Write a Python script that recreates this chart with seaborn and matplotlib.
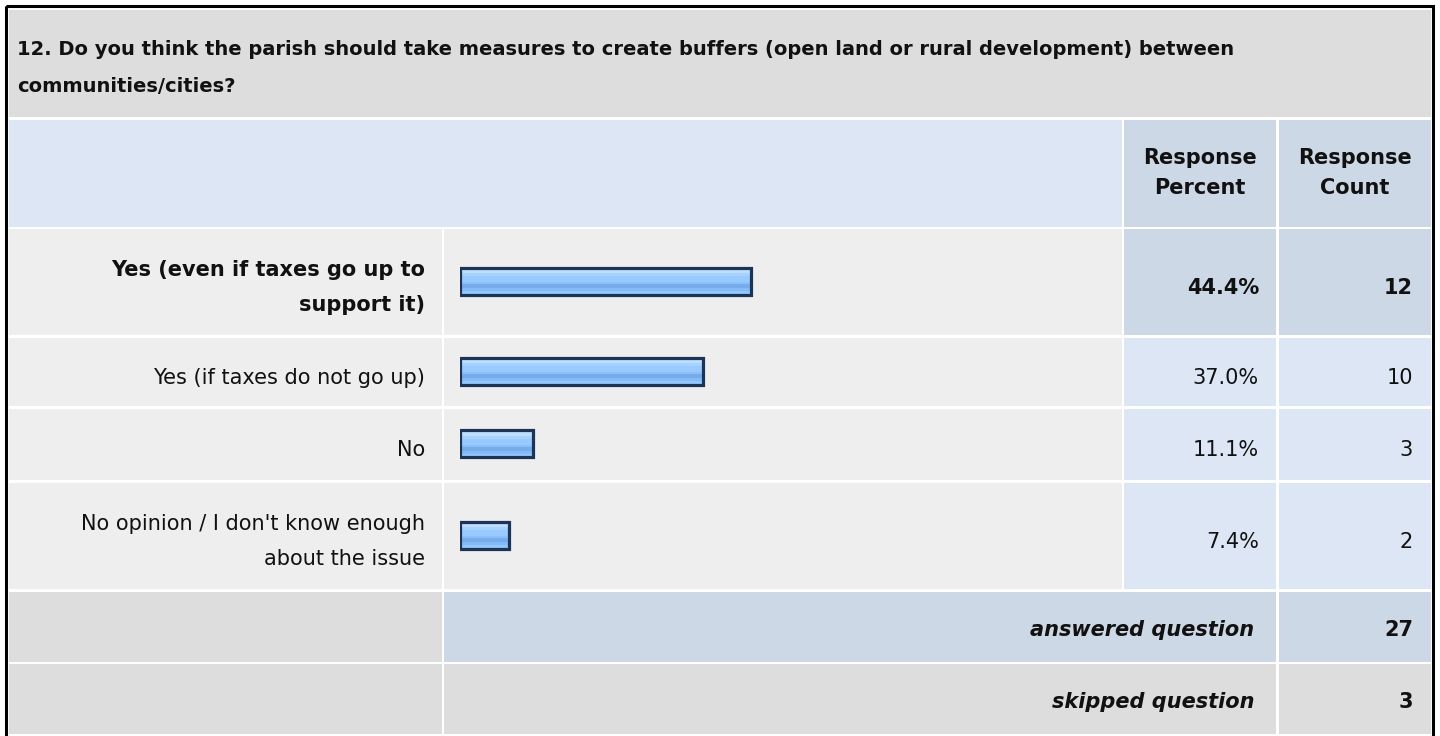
import numpy as np
import pandas as pd
import matplotlib.pyplot as plt
import seaborn as sns
from matplotlib.patches import Rectangle
from matplotlib.colors import to_rgb

# Data
question = ["12. Do you think the parish should take measures to create buffers (open land or rural development) between",
            "communities/cities?"]
answer_choices = ["Yes (even if taxes go up to\nsupport it)",
                  "Yes (if taxes do not go up)",
                  "No",
                  "No opinion / I don't know enough\nabout the issue"]
response_percent = [44.4, 37.0, 11.1, 7.4]
response_count = [12, 10, 3, 2]
answered_question = 27
skipped_question = 3

# Layout (pixels)
W, H = 1440, 736
cols = [(9, 442), (444, 1122), (1124, 1276), (1279, 1431)]
title_row = (10, 117)
header_row = (120, 227)
answer_rows = [(229, 335), (338, 406), (409, 480), (483, 589)]
answered_row = (592, 662)
skipped_row = (664, 734)

GRAY = '#DDDDDD'
LIGHT = '#EEEEEE'
BLUE_L = '#DCE6F4'
BLUE_D = '#CCD8E6'
FS = 15

sns.set_style('white')
plt.rcParams['font.family'] = ['DejaVu Sans']

fig = plt.figure(figsize=(W / 100, H / 100), dpi=100)
ax = fig.add_axes([0, 0, 1, 1])
ax.set_xlim(0, W)
ax.set_ylim(H, 0)
ax.axis('off')


def cell(x0, x1, rows, color):
    ax.add_patch(Rectangle((x0, rows[0]), x1 - x0, rows[1] - rows[0], facecolor=color, edgecolor='none'))


def lines(x, yc, txt, ha, weight='normal', style='normal', gap=35, off=11.5):
    parts = txt.split('\n')
    n = len(parts)
    for i, p in enumerate(parts):
        ax.text(x, yc + off + (i - (n - 1) / 2) * gap, p, ha=ha, va='baseline',
                fontsize=FS, fontweight=weight, fontstyle=style, color='#111111')


# outer frame
ax.add_patch(Rectangle((5.5, 6), 1427.5, 745, fill=False, edgecolor='black', lw=2.2))

# title
cell(cols[0][0], cols[3][1], title_row, GRAY)
for i, q in enumerate(question):
    ax.text(17, 55 + i * 37, q, ha='left', va='baseline', fontsize=14, fontweight='bold', color='#111111')

# header
cell(cols[0][0], cols[1][1], header_row, BLUE_L)
cell(*cols[2], header_row, BLUE_D)
cell(*cols[3], header_row, BLUE_D)
hc = sum(header_row) / 2
lines(sum(cols[2]) / 2, hc, "Response\nPercent", 'center', 'bold', gap=30, off=5.5)
lines(sum(cols[3]) / 2, hc, "Response\nCount", 'center', 'bold', gap=30, off=5.5)

# answer rows
top = int(np.argmax(response_percent))
for i, r in enumerate(answer_rows):
    yc = sum(r) / 2
    cell(*cols[0], r, LIGHT)
    cell(*cols[1], r, LIGHT)
    c = BLUE_D if i == top else BLUE_L
    cell(*cols[2], r, c)
    cell(*cols[3], r, c)
    w = 'bold' if i == top else 'normal'
    lines(425, yc, answer_choices[i], 'right', w)
    lines(1259, yc, f"{response_percent[i]:.1f}%", 'right', w)
    lines(1413, yc, str(response_count[i]), 'right', w)

# totals
cell(*cols[0], answered_row, GRAY)
cell(cols[1][0], cols[2][1], answered_row, BLUE_D)
cell(*cols[3], answered_row, BLUE_D)
cell(*cols[0], skipped_row, GRAY)
cell(cols[1][0], cols[2][1], skipped_row, GRAY)
cell(*cols[3], skipped_row, GRAY)
for r, lab, v in [(answered_row, "answered question", answered_question),
                  (skipped_row, "skipped question", skipped_question)]:
    yc = sum(r) / 2
    lines(1254, yc, lab, 'right', 'bold', 'italic', off=9)
    lines(1413, yc, str(v), 'right', 'bold', off=9)

# bars
bar_h = 27
bar_y = [sum(r) / 2 - 1 for r in answer_rows]
df = pd.DataFrame({'pct': response_percent, 'y': bar_y})
bx = fig.add_axes([460.5 / W, 0, 655 / W, 1])
sns.barplot(data=df, x='pct', y='y', orient='h', native_scale=True,
            width=bar_h / np.min(np.diff(bar_y)), color='#9ACCFF', saturation=1,
            edgecolor='#1C3557', linewidth=2.3, ax=bx)
bx.set_xlim(0, 100)
bx.set_ylim(H, 0)
bx.axis('off')
bx.patch.set_alpha(0)

stripes = ['#D2E8FF'] * 2 + ['#BEDDFF'] * 3 + ['#A6D2FF'] * 3 + ['#98CAFF'] * 5 + \
          ['#8CC0FA'] * 2 + ['#76ACEC'] * 4 + ['#84BBF5'] * 2 + ['#92C8FF'] * 3
grad = np.array([[to_rgb(s)] for s in stripes])
for p in list(bx.patches):
    x0, y0, w, h = p.get_x(), p.get_y(), p.get_width(), p.get_height()
    im = bx.imshow(grad, extent=(x0, x0 + w, y0 + h, y0), aspect='auto',
                   interpolation='nearest', zorder=1.5)
    im.set_clip_path(p)
    p.set_facecolor('none')
    p.set_zorder(3)
bx.set_xlim(0, 100)
bx.set_ylim(H, 0)

fig.savefig('out.png', dpi=100)
